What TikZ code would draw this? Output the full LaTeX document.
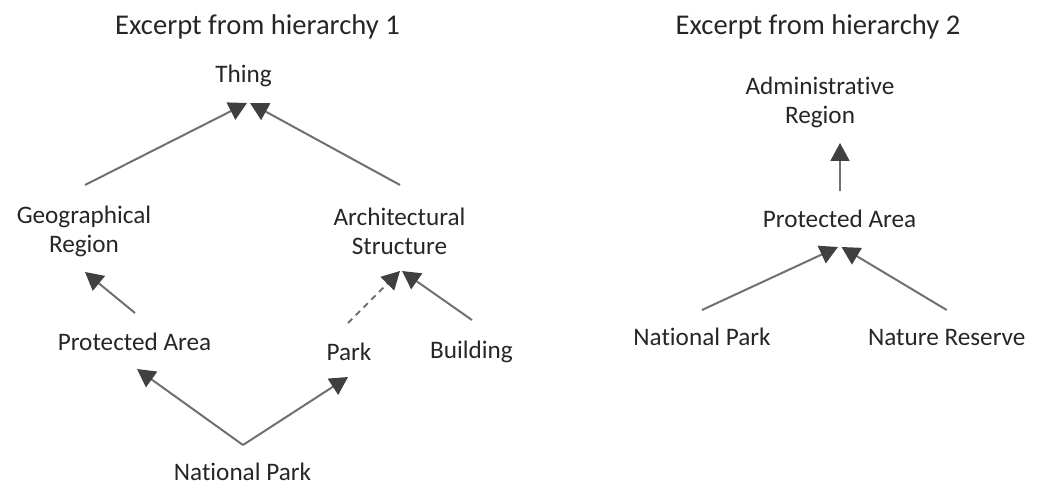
\documentclass[tikz,border=0pt]{standalone}
\usepackage{fontspec}
\setmainfont{Carlito}[Ligatures=NoCommon]
\usepackage{tikz}
\usetikzlibrary{arrows.meta}

\definecolor{linegray}{HTML}{707070}
\definecolor{headgray}{HTML}{404040}
\definecolor{textgray}{HTML}{262626}

\begin{document}
\begin{tikzpicture}[x=0.5pt,y=0.5pt,
    >={Triangle[length=9pt,width=9.5pt,color=headgray]},
    lbl/.style={inner sep=0pt,text=textgray,font=\fontsize{12.6}{14.5}\selectfont,
      text height=0.7em,text depth=0.2em},
    lbltwo/.style={inner sep=0pt,text=textgray,align=center,
      font=\fontsize{12.6}{14.5}\selectfont},
    title/.style={lbl,font=\fontsize{14.3}{16}\selectfont},
    link/.style={draw=linegray,line width=1pt,->},
    weak/.style={link,dash pattern=on 3pt off 2.5pt}]
  \useasboundingbox (0,0) rectangle (1040,-486);
  %
  % Headings
  \node[title] (head1) at (257.5,-30) {Excerpt from hierarchy 1};
  \node[title] (head2) at (818,-30) {Excerpt from hierarchy 2};
  %
  % Hierarchy 1
  \node[lbl] (thing) at (243.5,-77.5) {Thing};
  \node[lbltwo] (geo) at (84,-231) {Geographical\\Region};
  \node[lbltwo] (arch) at (399.5,-231) {Architectural\\Structure};
  \node[lbl] (prot1) at (134.5,-345.5) {Protected Area};
  \node[lbl] (park) at (349,-355.5) {Park};
  \node[lbl] (build) at (471.5,-353.5) {Building};
  \node[lbl] (np1) at (242.5,-475.5) {National Park};
  %
  \draw[link] ([shift={(1,46)}]geo.center) -- ([shift={(3.5,-25.5)}]thing.center);
  \draw[link] ([shift={(0.5,46)}]arch.center) -- ([shift={(6.5,-25.5)}]thing.center);
  \draw[link] ([shift={(0.5,32.5)}]prot1.center) -- ([shift={(1,-41)}]geo.center);
  \draw[weak] ([shift={(-1,32.5)}]park.center) -- ([shift={(0.5,-40)}]arch.center);
  \draw[link] ([shift={(0.5,33.5)}]build.center) -- ([shift={(2.5,-40)}]arch.center);
  \draw[link] ([shift={(0.5,30.5)}]np1.center) -- ([shift={(2.5,-23.5)}]prot1.center);
  \draw[link] ([shift={(0.5,30.5)}]np1.center) -- ([shift={(-1,-21.5)}]park.center);
  %
  % Hierarchy 2
  \node[lbltwo] (admin) at (820,-102) {Administrative\\Region};
  \node[lbl] (prot2) at (839.5,-222.5) {Protected Area};
  \node[lbl] (np2) at (702,-340.5) {National Park};
  \node[lbl] (reserve) at (946.7,-340.5) {Nature Reserve};
  %
  \draw[link] ([shift={(0.5,31.5)}]prot2.center) -- ([shift={(20,-41)}]admin.center);
  \draw[link] ([shift={(0,30.5)}]np2.center) -- ([shift={(-1.5,-24.5)}]prot2.center);
  \draw[link] ([shift={(0,30.5)}]reserve.center) -- ([shift={(2,-24.5)}]prot2.center);
\end{tikzpicture}
\end{document}
